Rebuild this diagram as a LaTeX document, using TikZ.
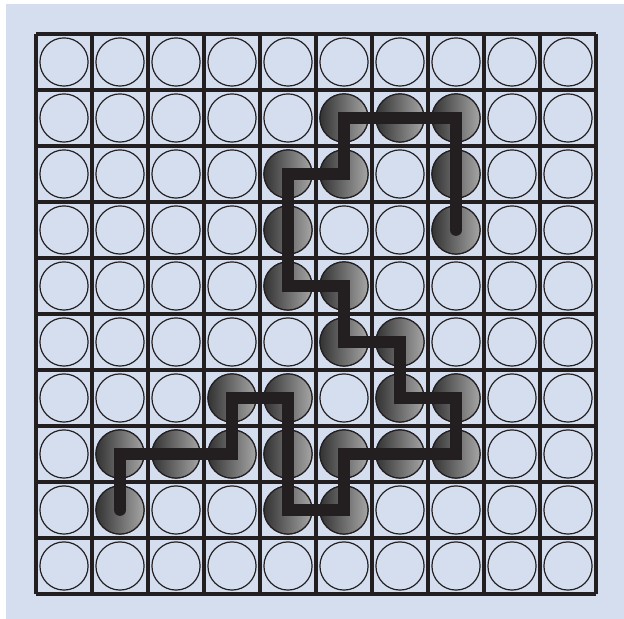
\documentclass[tikz,border=0pt]{standalone}
\usepackage{tikz}
\usetikzlibrary{positioning}
\definecolor{boardblue}{HTML}{D4DEEF}
\definecolor{inkdark}{HTML}{231F20}

\tikzset{
  cell/.style={circle, draw=inkdark, line width=0.6pt, minimum size=0.86cm, inner sep=0pt},
  stone/.style={cell, left color=black!80, right color=black!35},
  route/.style={draw=inkdark, line width=6pt, line cap=round, line join=miter}
}

\begin{document}
\begin{tikzpicture}
  \useasboundingbox (-0.643, -0.446) rectangle (10.5, 10.607);
  % Background
  \fill[white] (-0.643, -0.446) rectangle (10.5, 10.607);
  \fill[boardblue] (-0.536, -0.446) rectangle (10.5, 10.536);

  % Grid
  \draw[inkdark, line width=1.8pt] (0, 0) grid (10, 10);

  % Empty cells (column \i, row \j counted from the top)
  \foreach \i in {0,...,9}
    \foreach \j in {0,...,9}
      \node[cell] (c-\i-\j) at (\i+0.5, 9.5-\j) {};

  % Occupied cells
  \foreach \i/\j in {5/1, 6/1, 7/1, 4/2, 5/2, 7/2, 4/3, 7/3, 4/4, 5/4,
                     5/5, 6/5, 3/6, 4/6, 6/6, 7/6,
                     1/7, 2/7, 3/7, 4/7, 5/7, 6/7, 7/7, 1/8, 4/8, 5/8}
    \node[stone] at (c-\i-\j) {};

  % Route through the occupied cells
  \draw[route] (c-1-8.center) -- (c-1-7.center) -- (c-3-7.center)
    -- (c-3-6.center) -- (c-4-6.center) -- (c-4-8.center)
    -- (c-5-8.center) -- (c-5-7.center) -- (c-7-7.center)
    -- (c-7-6.center) -- (c-6-6.center) -- (c-6-5.center)
    -- (c-5-5.center) -- (c-5-4.center) -- (c-4-4.center)
    -- (c-4-2.center) -- (c-5-2.center) -- (c-5-1.center)
    -- (c-7-1.center) -- (c-7-3.center);
\end{tikzpicture}
\end{document}
